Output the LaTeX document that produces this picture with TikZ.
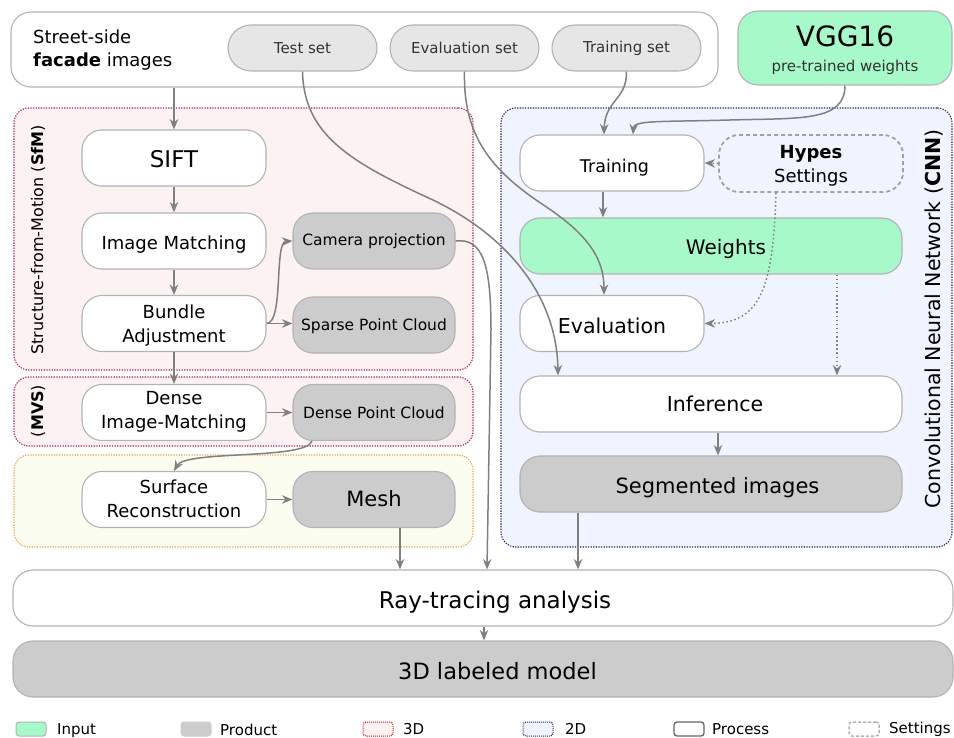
\documentclass[tikz,border=0pt]{standalone}
\usepackage{fontspec}
\setmainfont{DejaVu Sans}
\usetikzlibrary{arrows.meta}

\definecolor{bordergray}{HTML}{B3B3B3}
\definecolor{arrowgray}{HTML}{808080}
\definecolor{prodfill}{HTML}{CCCCCC}
\definecolor{setfill}{HTML}{E6E6E6}
\definecolor{settext}{HTML}{333333}
\definecolor{inputgreen}{HTML}{A8F9C9}
\definecolor{sfmfill}{HTML}{FDF2F2}
\definecolor{sfmdraw}{HTML}{B0204A}
\definecolor{surffill}{HTML}{FBFDF1}
\definecolor{surfdraw}{HTML}{F0A050}
\definecolor{cnnfill}{HTML}{EFF4FE}
\definecolor{cnndraw}{HTML}{22226E}
\definecolor{legred}{HTML}{DD1111}

\newcommand{\fs}[1]{\fontsize{#1}{#1}\selectfont}
% move a label right by #1 and down by #2 inside its box, keeping the box size
\newcommand{\tshift}[3]{\raisebox{-#2}[\height][\depth]{\hspace*{#1}\hspace*{#1}#3}}
\newcommand{\twolines}[2]{\begin{tabular}{@{}c@{}}#1\\[5pt]#2\end{tabular}}

\tikzset{
  box/.style={draw=bordergray, line width=1.1pt, rounded corners=20pt,
    inner sep=0pt, align=center, minimum height=56pt},
  proc/.style={box, fill=white, minimum width=184pt},
  prod/.style={box, fill=prodfill, minimum width=162pt},
  setpill/.style={box, fill=setfill, rounded corners=23pt, minimum width=149pt,
    minimum height=46pt, text=settext, font=\fs{15}},
  region/.style={rounded corners=15pt, line width=1.1pt,
    dash pattern=on 1.3pt off 1.3pt, inner sep=0pt},
  arr/.style={draw=arrowgray, line width=1.5pt,
    -{Stealth[length=10.5pt,width=8.5pt,inset=3.5pt]}},
  dotarr/.style={arr, dash pattern=on 1.5pt off 2.6pt},
  legbox/.style={rounded corners=3pt, minimum width=30pt, minimum height=14pt,
    inner sep=0pt, line width=1pt},
  legtext/.style={anchor=west, font=\fs{15}, inner sep=0pt},
}

\begin{document}
\begin{tikzpicture}[x=1pt, y=-1pt]
\useasboundingbox (0,0) rectangle (954,738);

% ---------- stage regions ----------
\node[region, draw=sfmdraw, fill=sfmfill, minimum width=459pt, minimum height=262pt]
  (sfm) at (243.5,239) {};
\node[region, draw=sfmdraw, fill=sfmfill, minimum width=459pt, minimum height=69pt]
  (mvs) at (243.5,411.5) {};
\node[region, draw=surfdraw, fill=surffill, minimum width=459pt, minimum height=92pt]
  (surf) at (243.5,501) {};
\node[region, draw=cnndraw, fill=cnnfill, minimum width=451pt, minimum height=439pt]
  (cnn) at (726.5,327.5) {};

\node[rotate=90, font=\fs{16}] (sfmlbl) at (38,240) {Structure-from-Motion (\textbf{SfM})};
\node[rotate=90, font=\fs{16}] (mvslbl) at (38,411) {(\textbf{MVS})};
\node[rotate=90, font=\fs{20.5}] (cnnlbl) at (934,319) {Convolutional Neural Network (\textbf{CNN})};

% ---------- inputs ----------
\node[box, fill=white, minimum width=707pt, minimum height=75pt] (street) at (364.5,49.5) {};
\node[anchor=west, align=left, font=\fs{18}, inner sep=0pt] (streetlbl) at (33,50)
  {Street-side\\[5pt]\textbf{facade} images};
\node[setpill] (testset) at (302.5,48) {Test set};
\node[setpill] (evalset) at (464.5,48) {Evaluation set};
\node[setpill] (trainset) at (626.5,48) {Training set};

\node[box, fill=inputgreen, minimum width=214pt, minimum height=74pt] (vgg) at (845,48) {};
\node[font=\fs{28}, inner sep=0pt] (vggname) at (845,36) {VGG16};
\node[font=\fs{15}, text=settext, inner sep=0pt] (vggsub) at (845,67) {pre-trained weights};

% ---------- 3D reconstruction ----------
\node[proc, font=\fs{23}] (sift) at (174,158) {\tshift{0pt}{1pt}{SIFT}};
\node[proc, font=\fs{18}] (imgmatch) at (174,241) {\tshift{0pt}{4pt}{Image Matching}};
\node[proc, font=\fs{18}] (bundle) at (174,323.5) {\tshift{0pt}{2.5pt}{\twolines{Bundle}{Adjustment}}};
\node[proc, font=\fs{18}] (denseim) at (174,412.5) {\twolines{Dense}{Image-Matching}};
\node[proc, font=\fs{18}] (surfrec) at (174,499.5) {\tshift{0pt}{2pt}{\twolines{Surface}{Reconstruction}}};

\node[prod, font=\fs{15.5}] (camproj) at (374,241) {Camera projection};
\node[prod, font=\fs{15.5}] (sparse) at (374,325) {\tshift{0pt}{1pt}{Sparse Point Cloud}};
\node[prod, font=\fs{15.5}] (densepc) at (374,412.5) {Dense Point Cloud};
\node[prod, font=\fs{21}] (mesh) at (374,499.5) {\tshift{0pt}{-1pt}{Mesh}};

% ---------- CNN ----------
\node[proc, font=\fs{17.5}] (training) at (612,163) {\tshift{2.5pt}{4.5pt}{Training}};
\node[box, draw=bordergray!90!black, dash pattern=on 4pt off 3pt, line width=1.8pt,
  minimum width=184pt, minimum height=57pt, font=\fs{18}] (hypes) at (811,163.5)
  {\tshift{0pt}{3pt}{\twolines{\textbf{Hypes}}{Settings}}};
\node[box, fill=inputgreen, minimum width=382pt, font=\fs{20}] (weights) at (711,246)
  {\tshift{15pt}{3pt}{Weights}};
\node[proc, font=\fs{20.5}] (evaluation) at (612,323.5) {\tshift{0pt}{2pt}{Evaluation}};
\node[box, fill=white, minimum width=382pt, font=\fs{20.5}] (inference) at (711,404)
  {\tshift{4pt}{0pt}{Inference}};
\node[box, fill=prodfill, minimum width=382pt, font=\fs{21}] (segmented) at (711,484)
  {\tshift{6.5pt}{4pt}{Segmented images}};

% ---------- fusion ----------
\node[box, fill=white, minimum width=940pt, font=\fs{23}] (raytrace) at (483,598)
  {\tshift{12pt}{4pt}{Ray-tracing analysis}};
\node[box, fill=prodfill, minimum width=940pt, font=\fs{22.5}] (model3d) at (483,669)
  {\tshift{14.5pt}{2.5pt}{3D labeled model}};

% ---------- connectors: reconstruction chain ----------
\draw[arr] (street.south -| sift) -- (sift.north);
\draw[arr] (sift) -- (imgmatch);
\draw[arr] (imgmatch) -- (bundle);
\draw[arr] (bundle) -- (denseim);
\draw[arr] (bundle.east) -- (bundle.east -| sparse.west);
\draw[arr] (bundle.east) .. controls (284,323) and (274,242) .. (camproj.west);
\draw[arr] (denseim.east) -- (denseim.east -| densepc.west);
\draw[arr] ([xshift=-62pt]densepc.south) .. controls (306,460) and (186,450) .. (surfrec.north);
\draw[arr] (surfrec) -- (mesh);
\draw[arr] ([xshift=26pt]mesh.south) -- ([xshift=26pt]mesh.south |- raytrace.north);
\draw[arr] (camproj.east) .. controls (482,238) and (491,262) .. (491,330)
  -- ([xshift=4pt]raytrace.north);

% ---------- connectors: data sets and CNN ----------
\draw[arr] (testset.south) .. controls (304,135) and (350,162) .. (433,200)
  .. controls (512,238) and (557,300) .. ([xshift=-153pt]inference.north);
\draw[arr] (evalset.south) .. controls (463,135) and (490,170) .. (545,206)
  .. controls (590,236) and (604,260) .. ([xshift=-8pt]evaluation.north);
\draw[arr] (trainset.south) .. controls (627,100) and (605,100) .. ([xshift=-8pt]training.north);
\draw[arr] (vgg.south) .. controls (845,122) and (800,118) .. (730,120)
  .. controls (660,122) and (634,120) .. ([xshift=21pt]training.north);
\draw[arr] ([xshift=-9pt]training.south) -- ([xshift=-9pt]training.south |- weights.north);
\draw[dotarr] (hypes.west) -- (training.east);
\draw[dotarr] ([xshift=-35pt]hypes.south) .. controls (773,290) and (760,323) .. (evaluation.east);
\draw[dotarr] ([xshift=126pt]weights.south) -- ([xshift=126pt]weights.south |- inference.north);
\draw[arr] ([xshift=7pt]inference.south) -- ([xshift=7pt]inference.south |- segmented.north);
\draw[arr] ([xshift=-133pt]segmented.south) -- ([xshift=-133pt]segmented.south |- raytrace.north);
\draw[arr] ([xshift=1pt]raytrace.south) -- ([xshift=1pt]model3d.north);

% ---------- legend ----------
\node[legbox, fill=inputgreen, draw=bordergray] (leginput) at (31,729) {};
\node[legtext] (leginputt) at (57,730.5) {Input};
\node[legbox, fill=prodfill, draw=prodfill] (legprod) at (196,729) {};
\node[legtext] (legprodt) at (220,729.5) {Product};
\node[legbox, fill=sfmfill, draw=legred, dash pattern=on 1pt off 1pt] (leg3d) at (378,729) {};
\node[legtext] (leg3dt) at (403,729) {3D};
\node[legbox, fill=cnnfill, draw=cnndraw, dash pattern=on 1pt off 1pt] (leg2d) at (538,729) {};
\node[legtext] (leg2dt) at (565,729) {2D};
\node[legbox, fill=white, draw=black!60, line width=1.3pt] (legproc) at (689,729) {};
\node[legtext] (legproct) at (712,729.5) {Process};
\node[legbox, draw=bordergray, line width=1.5pt, dash pattern=on 3pt off 2pt] (legset) at (864,729) {};
\node[legtext] (legsett) at (889,729.5) {Settings};
\end{tikzpicture}
\end{document}
